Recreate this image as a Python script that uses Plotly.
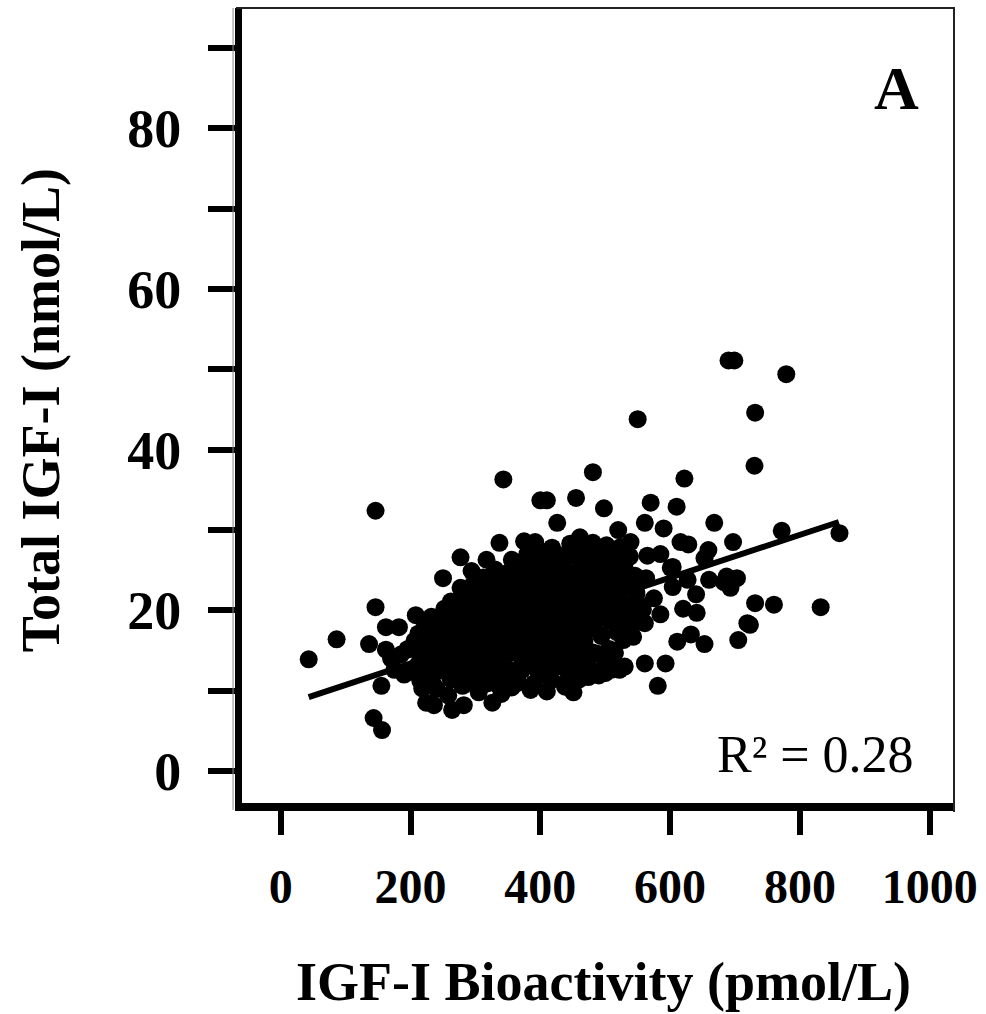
import plotly.graph_objects as go

# ---- data ----
# sparse points on the left
left_x = [43, 86, 136, 146, 146, 143, 156, 155, 162, 182, 162, 175, 190, 195, 208, 208, 231, 250, 218, 224, 236, 264, 282, 170, 185]
left_y = [13.9, 16.4, 15.8, 20.4, 32.4, 6.6, 5.1, 10.6, 17.9, 17.9, 15.1, 12.6, 12.0, 15.1, 15.1, 19.4, 18.8, 24.0, 10.3, 8.5, 8.2, 7.6, 8.2, 14.0, 14.5]

# points around the edges of the dense cloud
edge_x = [343, 277, 294, 317, 337, 375, 356, 277, 333, 271, 481, 400, 410, 455, 498, 426, 520, 392, 359, 461, 481, 432, 254, 451, 326, 294, 366, 417, 474, 509, 530]
edge_y = [36.3, 26.6, 24.9, 26.3, 28.4, 28.6, 26.3, 22.8, 22.8, 20.4, 37.2, 33.7, 33.7, 34.0, 32.7, 30.9, 30.0, 28.5, 26.0, 29.1, 28.4, 25.4, 18.8, 9.8, 8.5, 11.3, 11.0, 11.3, 11.7, 12.6, 13.0]

# points on the right side
right_x = [550, 622, 570, 610, 668, 561, 590, 697, 616, 659, 653, 687, 703, 693, 683, 604, 585, 620, 641, 611, 632, 653, 705, 561, 593, 581, 719, 690, 699, 779, 731, 730, 772, 861, 731, 760, 832, 723, 539, 601, 627, 604, 561, 543, 515, 522, 500, 563, 575, 548, 585, 565, 540, 555, 528, 640, 660, 628]
right_y = [43.8, 36.4, 33.4, 32.9, 30.9, 30.9, 30.2, 28.5, 28.5, 27.5, 26.5, 24.2, 24.0, 22.8, 23.5, 25.4, 19.5, 20.2, 19.7, 16.1, 17.0, 15.8, 16.3, 13.4, 13.4, 10.6, 18.4, 51.1, 51.1, 49.4, 44.6, 38.0, 29.9, 29.6, 20.9, 20.7, 20.4, 18.2, 28.5, 25.3, 23.8, 22.9, 18.4, 16.7, 14.7, 12.6, 12.2, 24.0, 21.5, 22.0, 27.0, 26.8, 19.0, 20.5, 24.5, 22.0, 23.8, 28.2]

# dense central cloud (first set)
core_x = [240, 258, 280, 305, 318, 340, 356, 385, 410, 438,
          205, 228, 248, 268, 288, 308, 330, 348, 372, 398, 422, 446, 470, 490,
          214, 236, 256, 276, 296, 314, 336, 354, 376, 396, 414, 438, 462, 488, 512,
          206, 226, 246, 266, 286, 304, 326, 346, 366, 386, 404, 426, 446, 468, 494, 528,
          222, 242, 262, 280, 300, 322, 340, 362, 380, 402, 420, 440, 462, 482, 506, 528, 552,
          252, 272, 292, 310, 330, 352, 372, 390, 412, 432, 452, 472, 492, 512, 534, 558,
          282, 302, 322, 346, 366, 386, 404, 426, 446, 466, 486, 506, 526, 548,
          312, 336, 358, 380, 402, 420, 440, 460, 480, 500, 522, 546,
          366, 392, 414, 440, 462, 486, 508, 538,
          418, 446, 470, 502, 524]
core_y = [10.2, 9.4, 10.6, 9.8, 10.9, 9.6, 10.4, 10.1, 9.9, 10.5,
          12.3, 11.6, 12.5, 11.9, 12.8, 11.5, 12.4, 11.8, 12.6, 12.0, 12.9, 12.2, 12.7, 11.9,
          13.6, 14.4, 13.8, 14.6, 13.5, 14.3, 13.9, 14.7, 13.6, 14.5, 13.8, 14.8, 14.1, 14.6, 13.9,
          16.2, 15.7, 16.5, 15.9, 16.6, 15.8, 16.4, 15.6, 16.8, 16.0, 16.7, 15.9, 16.6, 16.2, 16.9, 16.3,
          18.1, 17.6, 18.4, 17.8, 18.6, 17.7, 18.5, 17.9, 18.7, 18.0, 18.8, 18.2, 18.9, 18.3, 18.7, 18.1, 18.6,
          20.2, 19.7, 20.5, 19.8, 20.6, 20.0, 20.8, 20.1, 20.7, 19.9, 20.6, 20.2, 20.9, 20.3, 20.8, 20.1,
          22.1, 21.6, 22.4, 21.8, 22.5, 21.9, 22.6, 22.0, 22.7, 22.1, 22.8, 22.2, 22.9, 22.3,
          24.1, 23.7, 24.4, 23.8, 24.5, 24.0, 24.6, 24.1, 24.8, 24.2, 24.7, 24.3,
          25.9, 26.4, 25.8, 26.6, 26.1, 26.8, 26.2, 26.7,
          27.8, 28.3, 27.6, 28.1, 27.9]

# dense central cloud (second, staggered set)
fill_x = [215, 235, 262, 290, 312, 335, 362, 390, 415, 440, 460,
          210, 232, 252, 272, 292, 312, 332, 352, 372, 392, 412, 432, 452, 476, 500,
          196, 216, 236, 256, 276, 296, 316, 336, 356, 376, 396, 416, 436, 456, 480, 506,
          212, 232, 252, 272, 292, 312, 332, 352, 372, 392, 412, 432, 452, 472, 494, 518, 540,
          232, 252, 272, 292, 312, 332, 352, 372, 392, 412, 432, 452, 472, 494, 518, 542,
          262, 282, 302, 322, 342, 362, 382, 402, 422, 442, 462, 482, 502, 522, 546,
          296, 318, 340, 362, 384, 406, 428, 450, 472, 494, 516, 538,
          330, 352, 374, 396, 418, 440, 462, 484, 506, 530,
          380, 404, 428, 452, 476, 500, 520]
fill_y = [11.2, 10.8, 11.4, 11.0, 11.5, 10.7, 11.3, 10.9, 11.6, 11.1, 11.4,
          13.1, 12.7, 13.3, 12.9, 13.4, 12.8, 13.2, 12.6, 13.3, 12.9, 13.5, 13.0, 13.4, 12.8, 13.2,
          15.2, 14.8, 15.3, 14.9, 15.4, 15.0, 15.5, 14.7, 15.3, 15.1, 14.9, 15.4, 15.0, 15.3, 14.8, 15.2,
          17.1, 16.8, 17.3, 16.9, 17.4, 17.0, 17.2, 16.7, 17.4, 17.0, 17.3, 16.9, 17.2, 17.5, 16.8, 17.3, 17.0,
          19.2, 18.8, 19.3, 19.0, 19.4, 18.9, 19.3, 19.1, 18.8, 19.4, 19.0, 19.3, 18.9, 19.2, 19.4, 19.0,
          21.1, 20.8, 21.3, 21.0, 21.4, 20.9, 21.2, 21.5, 20.8, 21.3, 21.0, 21.4, 20.9, 21.2, 21.0,
          23.2, 22.9, 23.3, 23.0, 23.4, 22.9, 23.2, 23.5, 23.0, 23.3, 22.8, 23.2,
          25.1, 24.8, 25.3, 25.0, 25.4, 24.9, 25.2, 25.5, 25.0, 25.3,
          27.0, 27.3, 26.9, 27.2, 27.4, 27.0, 27.2]

# regression line end points
fit_x = [43, 860]
fit_y = [9.2, 31.0]

x_ticks = [0, 200, 400, 600, 800, 1000]
y_ticks = [0, 20, 40, 60, 80]

x_title = "IGF-I Bioactivity (pmol/L)"
y_title = "Total IGF-I (nmol/L)"
panel_label = "A"
r2_text = "R² = 0.28"

all_x = left_x + edge_x + right_x + core_x + fill_x
all_y = left_y + edge_y + right_y + core_y + fill_y

# ---- figure ----
FONT = "Liberation Serif"
L, R, T, B = 242, 28, 8, 211
W, H = 986, 1014
pw, ph = W - L - R, H - T - B

def px2paper_x(px):
    return (px - L) / pw

def px2paper_y(py):
    return (H - B - py) / ph

fig = go.Figure()
fig.add_trace(go.Scatter(x=all_x, y=all_y, mode="markers",
                         marker=dict(size=18, color="black", line=dict(width=0)),
                         showlegend=False, hoverinfo="skip"))
fig.add_trace(go.Scatter(x=fit_x, y=fit_y, mode="lines",
                         line=dict(color="black", width=6),
                         showlegend=False, hoverinfo="skip"))

xtickfont = dict(family=FONT, size=48, color="black", weight="bold")
ytickfont = dict(family=FONT, size=54, color="black", weight="bold")

fig.update_layout(
    width=W, height=H,
    margin=dict(l=L, r=R, t=T, b=B, pad=0),
    paper_bgcolor="white", plot_bgcolor="white",
    xaxis=dict(range=[-59.8, 1037.5], tickvals=x_ticks, ticks="outside",
               ticklen=24, tickwidth=6, tickcolor="black",
               showline=True, linewidth=8, linecolor="black",
               showgrid=False, zeroline=False, tickfont=xtickfont,
               ticklabelstandoff=10),
    yaxis=dict(range=[-3.98, 94.98], tickvals=y_ticks, ticks="outside",
               ticklen=27, tickwidth=6, tickcolor="black",
               minor=dict(dtick=10, tick0=0, ticks="outside", ticklen=27,
                          tickwidth=6, tickcolor="black", showgrid=False),
               showline=True, linewidth=7, linecolor="black",
               showgrid=False, zeroline=False, tickfont=ytickfont,
               ticklabelstandoff=16),
)

# thin top/right frame and faint shadow line on the left
fig.add_shape(type="line", xref="paper", yref="paper",
              x0=px2paper_x(236), x1=px2paper_x(959), y0=px2paper_y(8), y1=px2paper_y(8),
              line=dict(color="#222", width=2))
fig.add_shape(type="line", xref="paper", yref="paper",
              x0=px2paper_x(958), x1=px2paper_x(958), y0=px2paper_y(8), y1=px2paper_y(812),
              line=dict(color="#222", width=2))
fig.add_shape(type="line", xref="paper", yref="paper",
              x0=px2paper_x(233), x1=px2paper_x(233), y0=px2paper_y(8), y1=px2paper_y(810),
              line=dict(color="#888", width=1))

fig.add_annotation(text=x_title, xref="paper", yref="paper",
                   x=px2paper_x(606), y=px2paper_y(982), xanchor="center", yanchor="middle",
                   showarrow=False, font=dict(family=FONT, size=54, color="black", weight="bold"))
fig.add_annotation(text=y_title, xref="paper", yref="paper",
                   x=px2paper_x(40), y=px2paper_y(410), xanchor="center", yanchor="middle",
                   textangle=-90, showarrow=False,
                   font=dict(family=FONT, size=54, color="black", weight="bold"))
fig.add_annotation(text=panel_label, xref="paper", yref="paper",
                   x=px2paper_x(900), y=px2paper_y(88), xanchor="center", yanchor="middle",
                   showarrow=False, font=dict(family=FONT, size=62, color="black", weight="bold"))
fig.add_annotation(text=r2_text, xref="paper", yref="paper",
                   x=px2paper_x(920), y=px2paper_y(754), xanchor="right", yanchor="middle",
                   showarrow=False, font=dict(family=FONT, size=52, color="black"))

fig.write_html("out.html", config={"displayModeBar": False},
               post_script="document.body.style.margin='0';")
